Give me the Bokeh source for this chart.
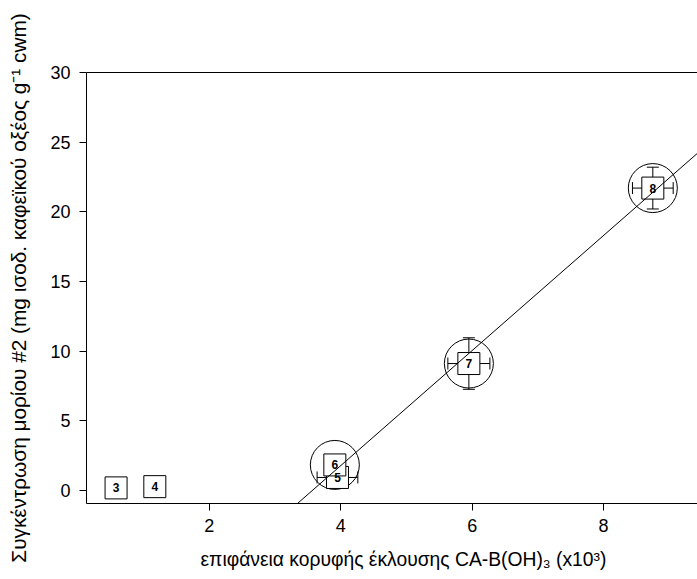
import numpy as np
from bokeh.plotting import figure
from bokeh.models import Range1d, FixedTicker, LinearAxis, Title, ColumnDataSource
from bokeh.embed import file_html
from bokeh.resources import INLINE
from bokeh.core.properties import value

# ---- data ----
point_ids = ["3", "4", "5", "6", "7", "8"]
x_vals = [0.58, 1.17, 3.95, 3.91, 5.95, 8.75]
y_vals = [0.17, 0.26, 0.92, 1.82, 9.10, 21.70]
x_err = [0.0, 0.0, 0.31, 0.0, 0.32, 0.31]
y_err = [0.0, 0.0, 0.0, 0.0, 1.85, 1.50]
circled_ids = ["6", "7", "8"]          # points used for the regression line
x_ticks = [2, 4, 6, 8]
y_ticks = [0, 5, 10, 15, 20, 25, 30]

x_label = "επιφάνεια κορυφής έκλουσης CA-B(OH)₃ (x10³)"
y_label = "Συγκέντρωση μορίου #2 (mg ισοδ. καφεϊκού οξέος g⁻¹ cwm)"

FONT = "Liberation Sans"
TICK_SIZE = "18px"

p = figure(width=697, height=579, output_backend="svg", toolbar_location=None,
           x_range=Range1d(0.13, 9.43), y_range=Range1d(-0.95, 30),
           min_border_left=86, min_border_right=0, min_border_top=72,
           min_border_bottom=76, x_axis_location=None, y_axis_location=None)
p.outline_line_color = None
p.grid.visible = False
p.background_fill_color = "white"
p.border_fill_color = "white"

# axes
yax = LinearAxis(ticker=FixedTicker(ticks=y_ticks), axis_label=y_label)
xax = LinearAxis(ticker=FixedTicker(ticks=x_ticks))
tax = LinearAxis(ticker=FixedTicker(ticks=[]))
for ax in (xax, yax, tax):
    ax.axis_line_color = "black"
    ax.axis_line_width = 1
    ax.major_tick_line_color = "black"
    ax.major_tick_in = 0
    ax.major_tick_out = 7
    ax.minor_tick_line_color = None
    ax.major_label_text_font = FONT
    ax.major_label_text_font_size = TICK_SIZE
    ax.major_label_text_color = "black"
    ax.axis_label_text_font = FONT
    ax.axis_label_text_font_size = "20.8px"
    ax.axis_label_text_font_style = "normal"
    ax.axis_label_text_color = "black"
yax.major_label_standoff = 9
yax.axis_label_standoff = 17
xax.major_label_standoff = 8
tax.major_label_text_font_size = "0px"
tax.major_tick_line_color = None
p.add_layout(yax, "left")
p.add_layout(xax, "below")
p.add_layout(tax, "above")

# blank spacer between tick labels and the x title (white tick on white border)
spacer = LinearAxis(ticker=FixedTicker(ticks=[x_ticks[0]]), axis_line_color=None,
                    major_tick_line_color="white", major_tick_in=0, major_tick_out=9,
                    major_label_standoff=0, major_label_text_font_size="0px",
                    major_label_text_color=None, minor_tick_line_color=None)
p.add_layout(spacer, "below")

# x axis title, placed like the original (whose frame runs past the window)
p.add_layout(Title(text=x_label, align="left", offset=114, standoff=6,
                   text_font=FONT, text_font_size="19.3px",
                   text_font_style="normal", text_color="black"), "below")

# regression line through the circled points
sel = [point_ids.index(c) for c in circled_ids]
fx = np.array([x_vals[i] for i in sel])
fy = np.array([y_vals[i] for i in sel])
slope, intercept = np.polyfit(fx, fy, 1)
lx = np.array([p.x_range.start, p.x_range.end])
ly = slope * lx + intercept

# circles
p.scatter([x_vals[i] for i in sel], [y_vals[i] for i in sel], marker="circle",
          size=49, fill_color=None, line_color="black", line_width=1)

# error bars
xe_idx = [i for i in range(len(point_ids)) if x_err[i] > 0]
ye_idx = [i for i in range(len(point_ids)) if y_err[i] > 0]
p.segment([x_vals[i] - x_err[i] for i in xe_idx], [y_vals[i] for i in xe_idx],
          [x_vals[i] + x_err[i] for i in xe_idx], [y_vals[i] for i in xe_idx],
          line_color="black", line_width=1)
p.segment([x_vals[i] for i in ye_idx], [y_vals[i] - y_err[i] for i in ye_idx],
          [x_vals[i] for i in ye_idx], [y_vals[i] + y_err[i] for i in ye_idx],
          line_color="black", line_width=1)
p.scatter([x_vals[i] - x_err[i] for i in xe_idx] + [x_vals[i] + x_err[i] for i in xe_idx],
          [y_vals[i] for i in xe_idx] * 2, marker="dash", angle=np.pi / 2,
          size=12, line_color="black", line_width=1)
p.scatter([x_vals[i] for i in ye_idx] * 2,
          [y_vals[i] - y_err[i] for i in ye_idx] + [y_vals[i] + y_err[i] for i in ye_idx],
          marker="dash", size=12, line_color="black", line_width=1)

# boxes with ids
src = ColumnDataSource(dict(x=x_vals, y=y_vals, t=point_ids))
p.scatter("x", "y", source=src, marker="square", size=22, fill_color="white",
          line_color="black", line_width=1)
p.text("x", "y", text="t", source=src, text_font=value(FONT), text_font_style="bold",
       text_font_size="12px", text_align="center", text_baseline="middle",
       text_color="black")

# regression line on top
p.line(lx, ly, line_color="black", line_width=1)

open("out.html", "w").write(file_html(p, INLINE))
